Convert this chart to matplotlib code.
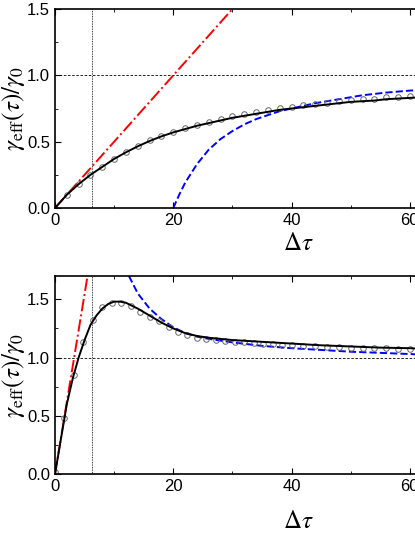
import matplotlib
matplotlib.use("Agg")
import matplotlib.pyplot as plt
from matplotlib.ticker import MultipleLocator

plt.rcParams["font.family"] = "Liberation Sans"
plt.rcParams["mathtext.fontset"] = "stix"

# top panel
top_t = [0, 2, 4, 6, 8, 10, 12, 14, 16, 18, 20, 22, 24, 26, 28, 30, 32, 34, 36, 38, 40,
         42, 44, 46, 48, 50, 52, 54, 56, 58, 60, 62]
top_fit = [0, 0.1, 0.18, 0.25, 0.31, 0.37, 0.42, 0.465, 0.505, 0.54, 0.57, 0.595, 0.62, 0.64,
           0.66, 0.68, 0.695, 0.71, 0.725, 0.74, 0.75, 0.76, 0.77, 0.78, 0.79, 0.80, 0.805,
           0.81, 0.82, 0.825, 0.83, 0.835]
top_data = [0, 0.1, 0.18, 0.25, 0.31, 0.37, 0.42, 0.47, 0.51, 0.545, 0.575, 0.60, 0.625, 0.65,
            0.67, 0.69, 0.71, 0.725, 0.74, 0.755, 0.765, 0.775, 0.785, 0.795, 0.805, 0.815,
            0.82, 0.825, 0.835, 0.84, 0.845, 0.85]
top_lin_t = [0, 30]
top_lin = [0, 1.5]
top_asy_t = [20, 21, 22, 24, 26, 28, 30, 32, 34, 36, 38, 40, 44, 48, 52, 56, 60, 62]
top_asy = [0, 0.1, 0.19, 0.33, 0.44, 0.52, 0.58, 0.63, 0.67, 0.70, 0.73, 0.75, 0.79, 0.82,
           0.85, 0.87, 0.885, 0.89]

# bottom panel
bot_t = [0, 1, 2, 3, 4, 5, 6, 7, 8, 9, 10, 11, 12, 14, 16, 18, 20, 22, 24, 26, 30, 35, 40,
         45, 50, 55, 60, 62]
bot_fit = [0, 0.3, 0.6, 0.82, 1.0, 1.15, 1.28, 1.36, 1.42, 1.46, 1.48, 1.48, 1.47, 1.42,
           1.36, 1.30, 1.25, 1.21, 1.185, 1.17, 1.15, 1.135, 1.12, 1.105, 1.095, 1.085,
           1.08, 1.075]
bot_data_t = [0, 1.6, 3.2, 4.8, 6.4, 8, 9.6, 11.2, 12.8, 14.4, 16, 17.6, 19.2, 20.8, 22.4,
              24, 25.6, 27.2, 28.8, 30.4, 32, 33.6, 35.2, 36.8, 38.4, 40, 42, 44, 46, 48,
              50, 52, 54, 56, 58, 60, 62]
bot_data = [0.02, 0.48, 0.85, 1.13, 1.32, 1.43, 1.47, 1.47, 1.44, 1.39, 1.35, 1.31, 1.26,
            1.22, 1.19, 1.17, 1.16, 1.15, 1.14, 1.135, 1.13, 1.125, 1.12, 1.115, 1.11, 1.105,
            1.1, 1.095, 1.09, 1.09, 1.085, 1.085, 1.08, 1.08, 1.075, 1.075, 1.07]
bot_lin_t = [0, 5.5]
bot_lin = [0, 1.7]
bot_asy_t = [12.5, 14, 16, 18, 20, 22, 24, 26, 30, 35, 40, 45, 50, 55, 60, 62]
bot_asy = [1.7, 1.55, 1.42, 1.33, 1.26, 1.21, 1.18, 1.16, 1.13, 1.1, 1.08, 1.065, 1.05,
           1.04, 1.03, 1.025]

t_mark = 6.3

fig = plt.figure(figsize=(4.15, 5.37), dpi=100)
ax1 = fig.add_axes([55 / 415, 1 - 208 / 537, 414 / 415, 199 / 537])
ax2 = fig.add_axes([55 / 415, 1 - 474 / 537, 414 / 415, 198 / 537])

panels = [
    (ax1, top_t, top_fit, top_t, top_data, top_lin_t, top_lin, top_asy_t, top_asy, 1.5, 255),
    (ax2, bot_t, bot_fit, bot_data_t, bot_data, bot_lin_t, bot_lin, bot_asy_t, bot_asy, 1.7, 533),
]
for ax, ft, fv, dt, dv, lt, lv, at, av, ymax, ylab in panels:
    ax.axhline(1.0, color="black", ls=(0, (3, 2)), lw=0.6)
    ax.axvline(t_mark, color="black", ls=(0, (1, 1)), lw=0.6)
    ax.plot(lt, lv, color="red", ls="-.", lw=1.4)
    ax.plot(at, av, color="blue", ls="--", lw=1.4)
    ax.plot(dt, dv, "o", mfc="none", mec="#666666", ms=4, mew=0.7)
    ax.plot(ft, fv, color="black", lw=1.4)
    ax.set_xlim(0, 70)
    ax.set_ylim(0, ymax)
    ax.xaxis.set_major_locator(MultipleLocator(20))
    ax.xaxis.set_minor_locator(MultipleLocator(10))
    ax.yaxis.set_major_locator(MultipleLocator(0.5))
    ax.yaxis.set_minor_locator(MultipleLocator(0.25))
    ax.yaxis.set_major_formatter(matplotlib.ticker.FormatStrFormatter("%.1f"))
    ax.tick_params(which="both", direction="in", top=True, right=True, labelsize=12)
    ax.tick_params(which="major", length=4)
    ax.tick_params(which="minor", length=2)
    for s in ax.spines.values():
        s.set_linewidth(1.2)
    ax.set_ylabel(r"$\gamma_{\rm eff}(\tau)/\gamma_0$", fontsize=18, labelpad=0)
    fig.text(298 / 415, 1 - ylab / 537, r"$\mathit{\Delta\tau}$", fontsize=18,
             ha="center", va="bottom")

fig.savefig("out.png", dpi=100)
